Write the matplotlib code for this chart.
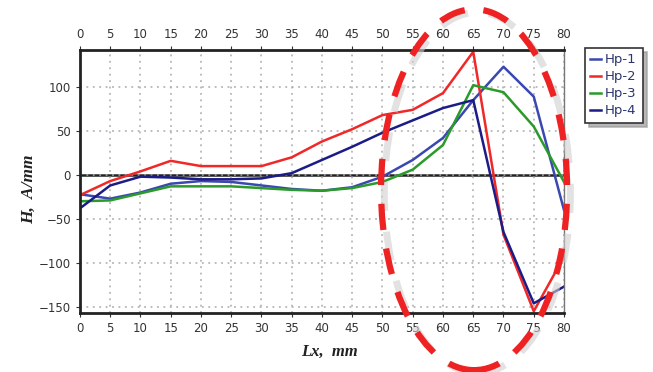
import matplotlib
matplotlib.use("Agg")
import matplotlib.pyplot as plt
from matplotlib.patches import Ellipse

lx = [0, 5, 10, 15, 20, 25, 30, 35, 40, 45, 50, 55, 60, 65, 70, 75, 80]
hp1 = [-22, -27, -20, -10, -7, -8, -12, -16, -18, -14, -2, 17, 42, 85, 123, 89, -40]
hp2 = [-23, -7, 4, 16, 10, 10, 10, 20, 38, 52, 68, 74, 93, 140, -68, -155, -93]
hp3 = [-30, -29, -21, -13, -13, -13, -15, -17, -18, -15, -8, 6, 34, 102, 94, 55, -8]
hp4 = [-38, -12, -2, -3, -5, -5, -4, 2, 17, 32, 48, 62, 76, 85, -65, -146, -127]

names = ["Hp-1", "Hp-2", "Hp-3", "Hp-4"]
colors = ["#3a48b0", "#f02828", "#2a9a2a", "#1c1c86"]

fig = plt.figure(figsize=(6.53, 3.72), dpi=100)
ax = fig.add_axes([0.1225, 0.1586, 0.7412, 0.707])

for ys, name, c in zip([hp1, hp2, hp3, hp4], names, colors):
    ax.plot(lx, ys, color=c, lw=1.8, label=name)

ax.axhline(0, color="#222222", lw=1.8, zorder=1)
ax.set_xlim(0, 80)
ax.set_ylim(-157, 142)
ax.set_xticks(range(0, 81, 5))
ax.set_yticks([-150, -100, -50, 0, 50, 100])
ax.grid(True, color="#aaaaaa", linestyle=(0, (1.2, 3)), lw=1.1)
ax.tick_params(axis="x", top=True, labeltop=True, labelsize=8.5, colors="#333333", length=3)
ax.tick_params(axis="y", labelsize=8.5, colors="#333333", length=3)
for s in ax.spines.values():
    s.set_linewidth(2)
    s.set_color("#222222")
ax.spines["right"].set_linewidth(1)
ax.spines["right"].set_color("#777777")

fig.text(0.505, 0.055, "Lx,  mm", family="Liberation Serif", style="italic",
         weight="bold", fontsize=12, ha="center", va="center", color="#222222")
fig.text(0.045, 0.49, "H,  A/mm", family="Liberation Serif", style="italic",
         weight="bold", fontsize=12.5, ha="center", va="center", rotation=90, color="#222222")

leg = fig.legend(loc="upper left", bbox_to_anchor=(0.885, 0.89), frameon=True,
                 fancybox=False, fontsize=9.5, handlelength=0.8, handletextpad=0.3,
                 labelspacing=0.3, borderpad=0.45,
                 shadow={"color": "#999999", "alpha": 0.7, "ox": 3, "oy": -3})
leg.get_frame().set_edgecolor("#333333")
leg.get_frame().set_linewidth(1.2)
for t in leg.get_texts():
    t.set_color("#2a3570")

# dashed red ellipse annotation with soft shadow
glow = Ellipse((0.731, 0.482), 0.285, 0.97, transform=fig.transFigure, fill=False,
               edgecolor="#d0d0d0", lw=5, linestyle=(0, (4.2, 3)), alpha=0.6, clip_on=False)
fig.patches.append(glow)
ell = Ellipse((0.726, 0.49), 0.285, 0.97, transform=fig.transFigure, fill=False,
              edgecolor="#ee2222", lw=4.5, linestyle=(0, (4.2, 3)), clip_on=False)
fig.patches.append(ell)

fig.savefig("out.png", dpi=100)
